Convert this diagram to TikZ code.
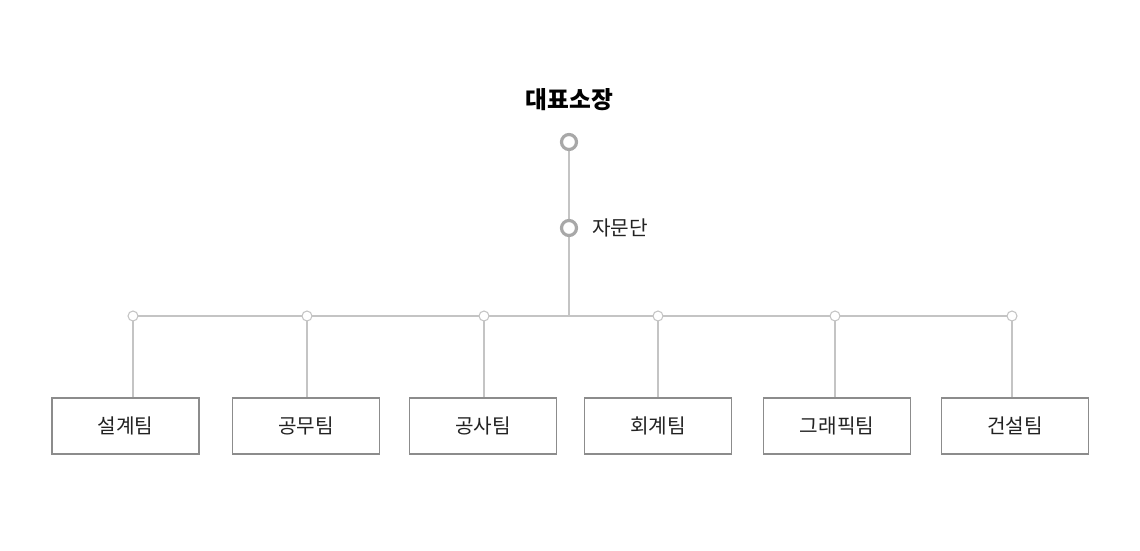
\documentclass[tikz,border=0pt]{standalone}
\usepackage{fontspec}
\newfontfamily\kr{Noto Sans CJK KR}
\usetikzlibrary{positioning,calc}
\definecolor{cLine}{HTML}{C4C4C4}
\definecolor{cRing}{HTML}{A8A8A8}
\definecolor{cBox}{HTML}{8C8C8C}
\definecolor{cText}{HTML}{222222}

\begin{document}
\begin{tikzpicture}[
    x=0.02cm, y=-0.02cm,
    team/.style={rectangle, draw=cBox, line width=0.6pt, minimum width=2.94cm, minimum height=1.12cm, font=\kr\fontsize{11.5}{13}\selectfont, text=cText, inner sep=0pt},
    ring/.style={circle, draw=cRing, line width=1.8pt, fill=white, minimum size=0.3cm, inner sep=0pt},
    dot/.style={circle, draw=cLine, line width=0.6pt, fill=white, minimum size=0.2cm, inner sep=0pt},
    link/.style={draw=cLine, line width=0.6pt}
]
\useasboundingbox (0,0) rectangle (1140,551);

\node[font=\kr\bfseries\fontsize{13.5}{15}\selectfont, text=black] (ceo) at (569.5,100) {대표소장};
\coordinate (top) at (569,142);
\coordinate (mid) at (569,228);
\coordinate (hub) at (569,316);
\node[font=\kr\fontsize{11.5}{13}\selectfont, text=cText, anchor=west] (adv) at (586,228) {자문단};

% teams
\node[team] (t1) at (125.5,426) {설계팀};
\node[team] (t2) at (306,426) {공무팀};
\node[team] (t3) at (483,426) {공사팀};
\node[team] (t4) at (658,426) {회계팀};
\node[team] (t5) at (837,426) {그래픽팀};
\node[team] (t6) at (1015,426) {건설팀};

\coordinate (d1) at (133,316);
\coordinate (d2) at (307,316);
\coordinate (d3) at (484,316);
\coordinate (d4) at (658,316);
\coordinate (d5) at (835,316);
\coordinate (d6) at (1012,316);

\draw[link] (top) -- (hub);
\draw[link] (d1) -- (d6);
\foreach \i in {1,...,6} {
  \draw[link] (d\i) -- (d\i |- t\i.north);
  \node[dot] (c\i) at (d\i) {};
}
\node[ring] (r1) at (top) {};
\node[ring] (r2) at (mid) {};
\end{tikzpicture}
\end{document}
